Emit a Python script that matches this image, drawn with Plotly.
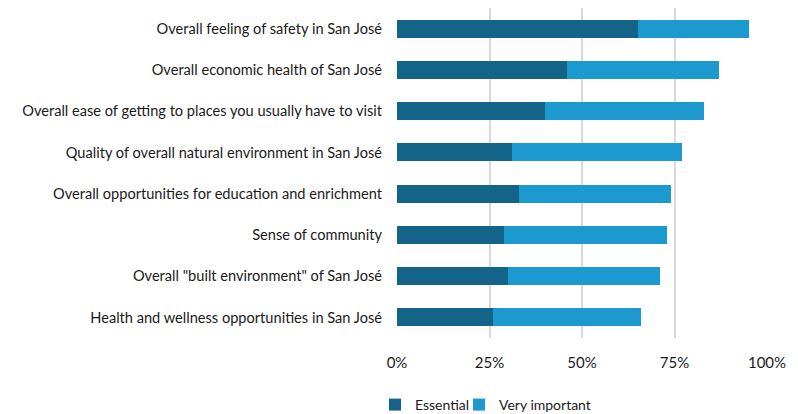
import plotly.graph_objects as go

categories = [
    "Overall feeling of safety in San José",
    "Overall economic health of San José",
    "Overall ease of getting to places you usually have to visit",
    "Quality of overall natural environment in San José",
    "Overall opportunities for education and enrichment",
    "Sense of community",
    "Overall \"built environment\" of San José",
    "Health and wellness opportunities in San José",
]
essential = [65, 46, 40, 31, 33, 29, 30, 26]
very_important = [30, 41, 43, 46, 41, 44, 41, 40]
x_ticks = [0, 25, 50, 75, 100]
x_tick_labels = ["0%", "25%", "50%", "75%", "100%"]

FONT = "Lato"
TXT = "#1a1a1a"

fig = go.Figure()
fig.add_trace(go.Bar(
    y=categories, x=essential, name="Essential", orientation="h",
    marker=dict(color="#136488", line=dict(width=0)),
    legend="legend",
))
fig.add_trace(go.Bar(
    y=categories, x=very_important, name="Very important", orientation="h",
    marker=dict(color="#1c99ce", line=dict(width=0)),
    legend="legend2",
))

legend_common = dict(
    orientation="h", xanchor="left", y=-0.203, yanchor="middle",
    font=dict(family=FONT, size=14, color=TXT),
    itemwidth=30, bgcolor="rgba(0,0,0,0)",
)

fig.update_layout(
    barmode="stack",
    bargap=0.56,
    width=790, height=406,
    margin=dict(l=389, r=31, t=0, b=76, autoexpand=False),
    paper_bgcolor="white", plot_bgcolor="white",
    font=dict(family=FONT, size=14, color=TXT),
    showlegend=True,
    legend=dict(x=-0.0595, **legend_common),
    legend2=dict(x=0.1676, **legend_common),
    xaxis=dict(
        range=[0, 100], tickvals=x_ticks, ticktext=x_tick_labels,
        showgrid=True, gridcolor="#d9d9d9", gridwidth=2,
        zeroline=False, showline=False, ticks="",
        ticklabelstandoff=14, automargin=False,
        tickfont=dict(family=FONT, size=15, color=TXT),
    ),
    yaxis=dict(
        categoryorder="array", categoryarray=categories[::-1],
        showgrid=False, zeroline=False, showline=False, ticks="",
        ticklabelstandoff=14, automargin=False,
        tickfont=dict(family=FONT, size=14.6, color=TXT),
    ),
)

fig.write_html("out.html")
